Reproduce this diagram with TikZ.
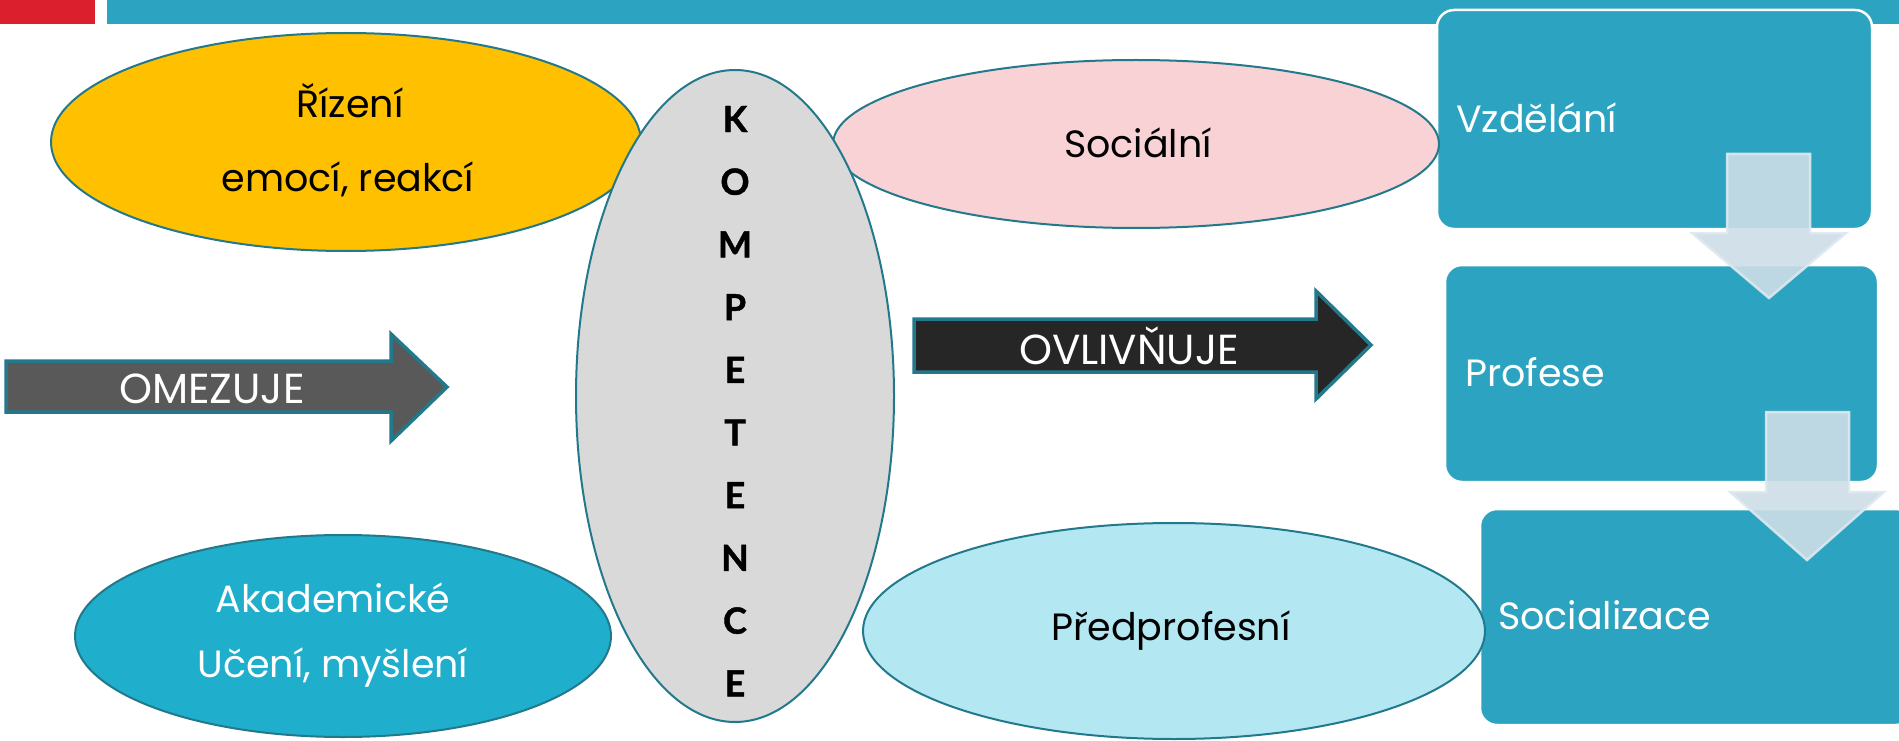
\documentclass[tikz,border=0pt]{standalone}
\usepackage{fontspec}
\setmainfont{Poppins}
\newfontfamily\kompfont[BoldFeatures={FakeBold=1.2}]{Lato}
\usetikzlibrary{shapes.geometric}
\definecolor{edgeteal}{HTML}{22798C}
\definecolor{barred}{HTML}{DC1F2D}
\definecolor{barteal}{HTML}{2CA3C0}
\definecolor{yellowfill}{HTML}{FFC000}
\definecolor{pinkfill}{HTML}{F8D2D5}
\definecolor{greyfill}{HTML}{D9D9D9}
\definecolor{tealfill}{HTML}{20AECD}
\definecolor{lightbluefill}{HTML}{B3E8F3}
\definecolor{downfill}{RGB}{205,222,231}
\definecolor{downedge}{RGB}{222,233,239}
\definecolor{omezfill}{HTML}{595959}
\definecolor{ovlivfill}{HTML}{262626}
\tikzset{
  oval/.style={ellipse, draw=edgeteal, line width=2pt, inner sep=0pt},
  stagebox/.style={rectangle, rounded corners=17pt, fill=barteal, draw=white, line width=2.5pt, inner sep=0pt},
  downarrow/.style={fill=downfill, fill opacity=0.9, draw=downedge, draw opacity=0.9, line width=2.5pt},
  blockarrow/.style={draw=edgeteal, line width=3.5pt, line join=miter},
  maintext/.style={font=\fontsize{38}{38}\selectfont, inner sep=0pt},
  whitetext/.style={maintext, text=white},
  arrowtext/.style={font=\fontsize{42}{42}\selectfont, inner sep=0pt, text=white},
  kompletter/.style={font=\kompfont\bfseries\fontsize{36}{36}\selectfont, inner sep=0pt}
}
\begin{document}
\begin{tikzpicture}[x=1pt,y=-1pt]
\useasboundingbox (0,0) rectangle (1899,741);
% top bars
\fill[barred] (0,0) rectangle (95,24);
\fill[barteal] (107,0) rectangle (1899,24);
% stage boxes
\node[stagebox, minimum width=435pt, minimum height=219pt] (vz) at (1654.5,119.5) {};
\node[stagebox, minimum width=433pt, minimum height=217pt] (pr) at (1661.5,373.5) {};
\node[stagebox, minimum width=433pt, minimum height=216pt] (so) at (1696.5,617) {};
% down arrows
\draw[downarrow] (1727,154) -- (1810,154) -- (1810,233) -- (1846,233) -- (1769,298) -- (1692,233) -- (1727,233) -- cycle;
\draw[downarrow] (1766,412) -- (1849,412) -- (1849,492) -- (1884,492) -- (1807,560) -- (1730,492) -- (1766,492) -- cycle;
% ellipses
\node[oval, fill=yellowfill, minimum width=590pt, minimum height=218pt] (riz) at (346,142) {};
\node[oval, fill=pinkfill, minimum width=606pt, minimum height=168pt] (soc) at (1136,144) {};
\node[oval, fill=greyfill, minimum width=318pt, minimum height=652pt] (komp) at (735,396) {};
\node[oval, fill=tealfill, minimum width=536pt, minimum height=202pt] (aka) at (343,636) {};
\node[oval, fill=lightbluefill, minimum width=622pt, minimum height=216pt] (pred) at (1174,631) {};
% block arrows
\draw[blockarrow, fill=omezfill] (6,361) -- (391,361) -- (391,334) -- (447,387) -- (391,441) -- (391,412) -- (6,412) -- cycle;
\draw[blockarrow, fill=ovlivfill] (914,319) -- (1316,319) -- (1316,291) -- (1371,345) -- (1316,399) -- (1316,372) -- (914,372) -- cycle;
% texts
\node[maintext, anchor=base] (t1) at (350,118) {Řízení};
\node[maintext, anchor=base] (t2) at (348,192) {emocí, reakcí};
\node[maintext] (t3) at (1138,143) {Sociální};
\node[whitetext] (t4) at (333,598) {Akademické};
\node[whitetext] (t5) at (333,668) {Učení, myšlení};
\node[maintext] (t6) at (1171,631) {Předprofesní};
\node[arrowtext] (t7) at (212,389) {OMEZUJE};
\node[arrowtext] (t8) at (1129,346) {OVLIVŇUJE};
\node[whitetext, anchor=base west] (t9) at (1456,133) {Vzdělání};
\node[whitetext, anchor=base west] (t10) at (1465,386) {Profese};
\node[whitetext, anchor=base west] (t11) at (1498,629) {Socializace};
% KOMPETENCE letters
\foreach \ch [count=\i from 0] in {K,O,M,P,E,T,E,N,C,E} {
  \node[kompletter] (k\i) at (735,119+62.7*\i) {\ch};
}
\end{tikzpicture}
\end{document}
